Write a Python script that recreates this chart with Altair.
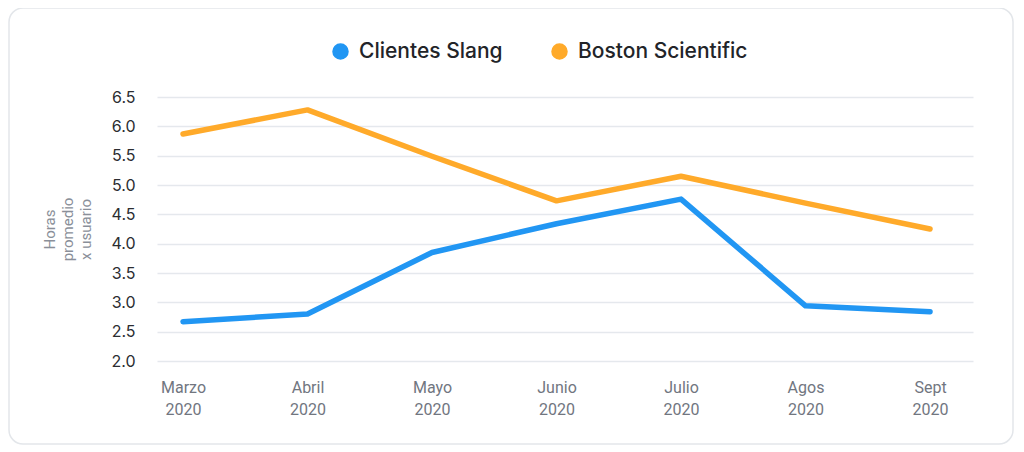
import pandas as pd
import altair as alt

# meses y valores
months = ['Marzo 2020', 'Abril 2020', 'Mayo 2020', 'Junio 2020',
          'Julio 2020', 'Agos 2020', 'Sept 2020']
slang = [2.67, 2.80, 3.85, 4.34, 4.76, 2.94, 2.84]
boston = [5.87, 6.28, 5.49, 4.73, 5.15, 4.69, 4.25]
series = ['Clientes Slang', 'Boston Scientific']
colors = ['#2196F3', '#FFAA2A']
y_ticks = [2.0, 2.5, 3.0, 3.5, 4.0, 4.5, 5.0, 5.5, 6.0, 6.5]

df = pd.concat([
    pd.DataFrame({'mes': months, 'horas': slang, 'serie': series[0]}),
    pd.DataFrame({'mes': months, 'horas': boston, 'serie': series[1]}),
])

x_enc = alt.X('mes:N', sort=months, title=None,
              scale=alt.Scale(type='point', padding=0.277, align=0.377),
              axis=alt.Axis(labelAngle=0, labelExpr="split(datum.label, ' ')",
                            labelFont='Roboto', labelFontSize=16, labelColor='#71767f',
                            labelLineHeight=22, labelPadding=18, ticks=False,
                            domain=False, grid=False))
y_enc = alt.Y('horas:Q', title=['Horas', 'promedio', 'x usuario'],
              scale=alt.Scale(domain=[2.0, 6.5], nice=False, zero=False),
              axis=alt.Axis(values=y_ticks, format='.1f', labelFont='Inter',
                            labelFontSize=16, labelColor='#2b2d31', labelPadding=22,
                            ticks=False, domain=False, gridColor='#e5e8ed', gridWidth=1.5,
                            titleFont='Roboto', titleFontSize=15, titleFontWeight='normal',
                            titleColor='#8a8f99', titleLineHeight=18, titleAngle=-90,
                            titleX=-115, titleY=132, titleAlign='center', titleBaseline='top'))

# lineas coloreadas por stroke (sin leyenda propia)
lines = alt.Chart(df).mark_line(strokeWidth=5.5, strokeCap='round', strokeJoin='round').encode(
    x_enc, y_enc,
    alt.Stroke('serie:N', scale=alt.Scale(domain=series, range=colors), legend=None),
)

# capa invisible solo para la leyenda con circulos rellenos
legend_pts = alt.Chart(df).mark_circle(size=0, opacity=1).encode(
    x_enc, y_enc,
    alt.Color('serie:N', scale=alt.Scale(domain=series, range=colors),
              legend=alt.Legend(title=None, orient='none', direction='horizontal',
                                legendX=173, legendY=-56, symbolType='circle',
                                symbolSize=225, symbolOpacity=1, labelFont='Inter',
                                labelFontSize=21, labelFontWeight=500, labelLimit=400,
                                labelColor='#222428', labelOffset=8, columnPadding=46)),
)

border = alt.Chart(alt.Data(values=[{}])).mark_rect(
    fill='transparent', stroke='#e3e6ea', strokeWidth=1.5, cornerRadius=14
).encode(x=alt.value(-148), x2=alt.value(856), y=alt.value(-89), y2=alt.value(347))

chart = alt.layer(border, legend_pts, lines).properties(
    width=816, height=264,
    padding={'left': 149, 'top': 89, 'right': 43, 'bottom': 86},
    autosize=alt.AutoSizeParams(type='none'),
).configure_view(stroke=None)

chart.save("out.html", embed_options={"renderer": "svg", "actions": False})
